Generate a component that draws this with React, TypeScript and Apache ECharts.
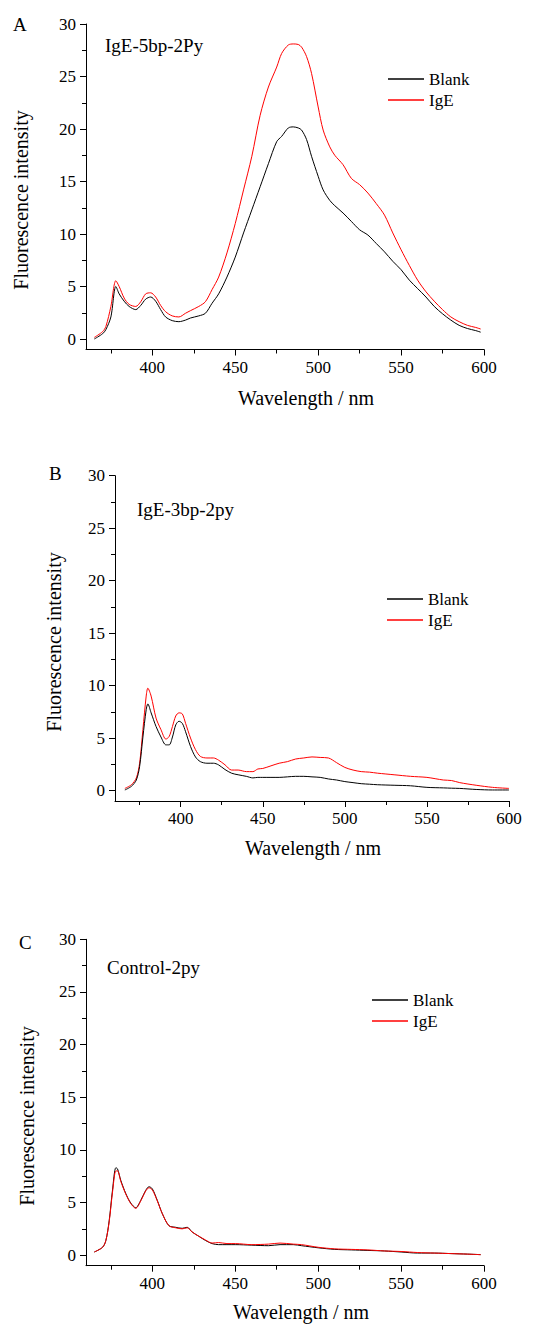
import React, { useEffect, useRef } from "react";
import * as echarts from "echarts";

// ---------- Data ----------
const wlA = [365, 370, 372, 375, 378, 380, 383, 386, 390, 393, 396, 399, 402, 405, 408, 412, 416, 420, 423, 428, 432, 436, 440, 445, 450, 455, 460, 465, 470, 475, 478, 482, 485, 488, 490, 493, 496, 500, 503, 507, 510, 515, 520, 525, 530, 535, 540, 545, 550, 555, 560, 565, 570, 575, 580, 585, 590, 595, 598];
const blankA = [0.0, 0.5, 0.9, 2.1, 5.0, 4.3, 3.6, 3.1, 2.8, 3.2, 3.8, 4.0, 3.6, 2.8, 2.1, 1.75, 1.65, 1.8, 2.0, 2.2, 2.45, 3.4, 4.3, 5.9, 7.8, 10.1, 12.3, 14.5, 16.7, 18.8, 19.3, 20.1, 20.2, 20.1, 19.9, 19.0, 17.4, 15.5, 14.2, 13.2, 12.7, 12.0, 11.2, 10.4, 9.9, 9.1, 8.3, 7.4, 6.6, 5.6, 4.8, 4.0, 3.1, 2.4, 1.8, 1.3, 1.0, 0.8, 0.65];
const igeA = [0.15, 0.7, 1.2, 3.1, 5.55, 5.0, 3.9, 3.3, 3.1, 3.55, 4.3, 4.4, 4.0, 3.2, 2.6, 2.2, 2.1, 2.45, 2.7, 3.1, 3.55, 4.7, 5.9, 8.2, 11.0, 14.2, 17.4, 21.3, 24.0, 25.9, 27.2, 28.0, 28.1, 28.05, 27.8, 26.9, 25.3, 22.1, 19.9, 18.3, 17.5, 16.6, 15.3, 14.7, 13.9, 12.9, 11.8, 10.1, 8.5, 7.0, 5.6, 4.5, 3.6, 2.8, 2.1, 1.65, 1.3, 1.1, 0.95];

const wlB = [366, 370, 373, 375, 377, 379, 380, 382, 385, 388, 391, 393, 395, 397, 399, 401, 403, 406, 409, 412, 416, 420, 423, 427, 431, 435, 440, 444, 447, 450, 455, 460, 465, 470, 475, 480, 485, 490, 495, 500, 505, 510, 515, 520, 530, 540, 550, 560, 565, 570, 580, 590, 600];
const blankB = [0.05, 0.4, 1.0, 2.3, 5.1, 7.7, 8.25, 7.4, 6.1, 5.1, 4.35, 4.35, 5.1, 6.25, 6.6, 6.4, 5.6, 4.2, 3.2, 2.75, 2.6, 2.6, 2.45, 2.0, 1.65, 1.5, 1.35, 1.2, 1.25, 1.25, 1.25, 1.25, 1.3, 1.35, 1.35, 1.3, 1.25, 1.1, 1.0, 0.85, 0.75, 0.65, 0.6, 0.55, 0.5, 0.45, 0.3, 0.25, 0.22, 0.2, 0.1, 0.05, 0.05];
const igeB = [0.2, 0.55, 1.2, 2.6, 5.8, 9.0, 9.75, 9.0, 6.9, 5.8, 4.9, 5.15, 6.1, 7.1, 7.4, 7.3, 6.4, 5.0, 3.9, 3.25, 3.1, 3.1, 2.9, 2.45, 1.95, 1.95, 1.8, 1.8, 2.05, 2.1, 2.35, 2.6, 2.75, 3.0, 3.1, 3.2, 3.15, 3.1, 2.65, 2.2, 1.95, 1.8, 1.75, 1.65, 1.5, 1.35, 1.25, 1.0, 0.95, 0.75, 0.5, 0.3, 0.2];

const wlC = [365, 370, 372, 374, 376, 378, 379, 381, 384, 387, 390, 393, 396, 398, 400, 403, 406, 410, 414, 418, 421, 424, 428, 432, 436, 440, 445, 450, 460, 470, 477, 485, 490, 500, 510, 520, 530, 540, 550, 560, 570, 580, 590, 598];
const blankC = [0.3, 0.75, 1.4, 3.3, 6.2, 8.3, 8.2, 7.1, 5.85, 4.95, 4.5, 5.2, 6.15, 6.5, 6.3, 5.2, 3.95, 2.8, 2.65, 2.55, 2.65, 2.2, 1.8, 1.4, 1.1, 1.0, 1.0, 1.0, 0.95, 0.9, 1.0, 1.0, 0.9, 0.7, 0.55, 0.5, 0.45, 0.4, 0.3, 0.2, 0.2, 0.15, 0.1, 0.05];
const igeC = [0.3, 0.75, 1.4, 3.2, 6.0, 8.0, 8.0, 7.0, 5.8, 4.9, 4.45, 5.15, 6.1, 6.4, 6.2, 5.15, 3.95, 2.8, 2.6, 2.5, 2.6, 2.2, 1.8, 1.45, 1.15, 1.2, 1.1, 1.1, 1.0, 1.05, 1.15, 1.05, 1.0, 0.75, 0.6, 0.55, 0.5, 0.4, 0.35, 0.25, 0.2, 0.15, 0.1, 0.05];

const xMajorTicks = [400, 450, 500, 550, 600];
const xMinorTicks = [375, 425, 475, 525, 575];
const yMajorTicks = [0, 5, 10, 15, 20, 25, 30];
const yMinorTicks = [2.5, 7.5, 12.5, 17.5, 22.5, 27.5];

const panelLetters = ["A", "B", "C"];
const panelTitles = ["IgE-5bp-2Py", "IgE-3bp-2py", "Control-2py"];
const seriesNames = ["Blank", "IgE"];
const xTitle = "Wavelength / nm";
const yTitle = "Fluorescence intensity";

// ---------- Layout ----------
const FONT = "'Liberation Serif', 'Times New Roman', serif";
const grids = [
  { left: 86, top: 24, width: 398, height: 325.5 },
  { left: 115, top: 475.7, width: 394, height: 325.3 },
  { left: 86, top: 939.3, width: 398, height: 326.4 },
];
const letterPos = [[13, 24], [49, 473], [19, 942]];
const titlePos = [[105, 45], [137, 509], [107, 967]];
const yTitlePos = [[21, 200], [54, 642], [27, 1116]];
const xTitlePos = [[306, 398], [313, 848], [301, 1312]];
const legendPos = [[388, 70], [387, 590], [372, 991]];

function pairs(xs: number[], ys: number[]) {
  return xs.map((x, i) => [x, ys[i]]);
}

export default function App() {
  const ref = useRef<HTMLDivElement>(null);
  useEffect(() => {
    document.body.style.margin = "0";
    if (!ref.current) return;
    const chart = echarts.init(ref.current, null, { renderer: "svg" });

    const panels = [
      [wlA, blankA, igeA],
      [wlB, blankB, igeB],
      [wlC, blankC, igeC],
    ];

    const xAxes: any[] = [];
    const yAxes: any[] = [];
    const series: any[] = [];
    const legends: any[] = [];
    const graphics: any[] = [];

    grids.forEach((g, gi) => {
      xAxes.push({
        type: "value", gridIndex: gi, min: 360, max: 600,
        axisLine: { show: true, onZero: false, lineStyle: { color: "#000", width: 1 } },
        axisTick: { show: true, inside: false, length: 6, customValues: xMajorTicks, lineStyle: { color: "#000" } },
        axisLabel: { show: true, customValues: xMajorTicks, margin: 9, color: "#000", fontFamily: FONT, fontSize: 17 },
        splitLine: { show: false },
      });
      xAxes.push({
        type: "value", gridIndex: gi, min: 360, max: 600, position: "bottom",
        axisLine: { show: false, onZero: false },
        axisTick: { show: true, inside: false, length: 4, customValues: xMinorTicks, lineStyle: { color: "#000" } },
        axisLabel: { show: false },
        splitLine: { show: false },
      });
      yAxes.push({
        type: "value", gridIndex: gi, min: -1, max: 30,
        axisLine: { show: true, onZero: false, lineStyle: { color: "#000", width: 1 } },
        axisTick: { show: true, inside: false, length: 6, customValues: yMajorTicks, lineStyle: { color: "#000" } },
        axisLabel: { show: true, customValues: yMajorTicks, margin: 10, color: "#000", fontFamily: FONT, fontSize: 17 },
        splitLine: { show: false },
      });
      yAxes.push({
        type: "value", gridIndex: gi, min: -1, max: 30, position: "left",
        axisLine: { show: false, onZero: false },
        axisTick: { show: true, inside: false, length: 4, customValues: yMinorTicks, lineStyle: { color: "#000" } },
        axisLabel: { show: false },
        splitLine: { show: false },
      });

      const [wl, bl, ig] = panels[gi];
      series.push({
        name: seriesNames[0], type: "line", xAxisIndex: gi * 2, yAxisIndex: gi * 2,
        data: pairs(wl, bl), showSymbol: false, smooth: 0.3,
        lineStyle: { color: "#000", width: 1 }, itemStyle: { color: "#000" }, z: gi === 2 ? 2 : 3,
      });
      series.push({
        name: seriesNames[1], type: "line", xAxisIndex: gi * 2, yAxisIndex: gi * 2,
        data: pairs(wl, ig), showSymbol: false, smooth: 0.3,
        lineStyle: { color: "#ff0000", width: 1 }, itemStyle: { color: "#ff0000" }, z: gi === 2 ? 3 : 2,
      });

      legends.push({
        data: seriesNames, orient: "vertical", left: legendPos[gi][0], top: legendPos[gi][1],
        padding: 0, itemGap: 3, itemWidth: 36, itemHeight: 1.5, icon: "rect",
        textStyle: { fontFamily: FONT, fontSize: 17, color: "#000", lineHeight: 18 },
        selectedMode: false,
      });

      graphics.push({
        type: "text", x: letterPos[gi][0], y: letterPos[gi][1],
        style: { text: panelLetters[gi], font: `19px ${FONT}`, fill: "#000", textAlign: "left", textVerticalAlign: "middle" },
      });
      graphics.push({
        type: "text", x: titlePos[gi][0], y: titlePos[gi][1],
        style: { text: panelTitles[gi], font: `19px ${FONT}`, fill: "#000", textAlign: "left", textVerticalAlign: "middle" },
      });
      graphics.push({
        type: "text", x: yTitlePos[gi][0], y: yTitlePos[gi][1], rotation: Math.PI / 2,
        style: { text: yTitle, font: `20px ${FONT}`, fill: "#000", textAlign: "center", textVerticalAlign: "middle" },
      });
      graphics.push({
        type: "text", x: xTitlePos[gi][0], y: xTitlePos[gi][1],
        style: { text: xTitle, font: `20px ${FONT}`, fill: "#000", textAlign: "center", textVerticalAlign: "middle" },
      });
    });

    chart.setOption({
      animation: false,
      backgroundColor: "#fff",
      grid: grids.map((g) => ({ ...g, containLabel: false })),
      xAxis: xAxes,
      yAxis: yAxes,
      series,
      legend: legends,
      graphic: graphics,
    });
    return () => chart.dispose();
  }, []);
  return <div ref={ref} style={{ width: 534, height: 1324 }} />;
}
